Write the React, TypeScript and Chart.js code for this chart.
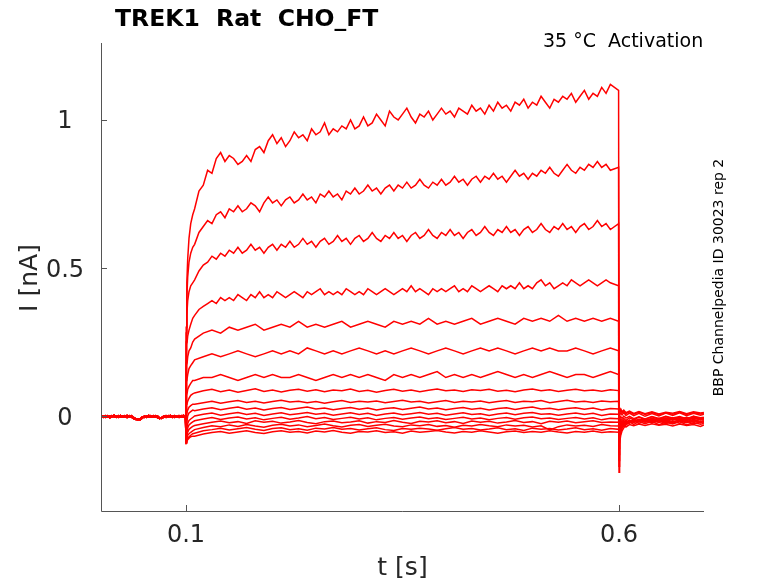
import React, { useRef, useEffect } from "react";
import { Chart, registerables } from "chart.js";

Chart.register(...registerables);

const titleText = "TREK1  Rat  CHO_FT";
const conditionText = "35 °C  Activation";
const sideText = "BBP Channelpedia ID 30023 rep 2";
const xLabel = "t [s]";
const yLabel = "I [nA]";
const xTicks = [0.1, 0.6];
const yTicks = [0, 0.5, 1];

// sample times (s) for each part of the sweep
const baseTimes = Array.from({ length: 40 }, (_, k) => 0.002 + 0.0025 * k);
const onsetTimes = [0.1, 0.1003, 0.101, 0.102, 0.1035, 0.1055, 0.1078];
const fineTimes = Array.from({ length: 98 }, (_, k) => (k === 97 ? 0.5995 : 0.11 + 0.005 * k));
const coarseTimes = Array.from({ length: 50 }, (_, k) => (k === 49 ? 0.5995 : 0.11 + 0.01 * k));
const tailTimes = [0.6, 0.6003, 0.601, 0.602, 0.6035, 0.6055, 0.608, 0.612, 0.617, 0.623, 0.63, 0.638, 0.646, 0.654, 0.662, 0.67, 0.678, 0.686, 0.694, 0.698];

// holding current before the step (nA)
const baselineA = [
  0.002, -0.003, 0.001, -0.004, 0.0, -0.002, 0.003, -0.003, 0.001, -0.004,
  0.0, -0.002, 0.002, -0.003, 0.001, -0.005, -0.009, -0.012, -0.011, -0.006,
  0.0, -0.003, 0.002, -0.002, 0.001, -0.004, 0.0, -0.006, -0.008, -0.004,
  0.001, -0.003, 0.002, -0.002, 0.0, -0.004, 0.001, -0.003, 0.002, -0.001,
];
const baselineB = [
  -0.004, 0.0, -0.005, -0.001, -0.004, 0.001, -0.003, 0.0, -0.005, -0.001,
  -0.003, 0.001, -0.004, 0.0, -0.003, -0.008, -0.011, -0.013, -0.01, -0.003,
  -0.005, 0.0, -0.004, 0.001, -0.003, 0.0, -0.005, -0.008, -0.006, 0.0,
  -0.004, 0.001, -0.003, 0.0, -0.005, -0.001, -0.003, 0.001, -0.004, -0.002,
];
const baselineC = [
  -0.001, -0.005, -0.002, 0.001, -0.006, -0.003, 0.0, -0.005, -0.002, 0.002,
  -0.004, -0.001, -0.005, 0.001, -0.004, -0.009, -0.012, -0.01, -0.013, -0.007,
  -0.002, -0.005, 0.0, -0.004, -0.002, 0.001, -0.005, -0.009, -0.005, -0.002,
  -0.005, 0.0, -0.003, -0.005, 0.001, -0.002, -0.005, 0.0, -0.003, -0.004,
];
const baselines = [baselineA, baselineB, baselineC];

// first ms of each step
const onsets = [
  [-0.05, 0.3, 0.45, 0.53, 0.6, 0.65, 0.68],
  [-0.05, 0.28, 0.4, 0.47, 0.52, 0.55, 0.57],
  [-0.05, 0.25, 0.34, 0.39, 0.42, 0.44, 0.45],
  [-0.06, 0.18, 0.24, 0.27, 0.29, 0.31, 0.33],
  [-0.06, 0.12, 0.17, 0.2, 0.22, 0.23, 0.25],
  [-0.07, 0.08, 0.12, 0.14, 0.16, 0.17, 0.18],
  [-0.07, 0.04, 0.07, 0.09, 0.1, 0.11, 0.12],
  [-0.08, 0.01, 0.04, 0.05, 0.06, 0.07, 0.075],
  [-0.08, -0.02, 0.01, 0.02, 0.03, 0.035, 0.04],
  [-0.08, -0.04, -0.02, 0.0, 0.01, 0.015, 0.02],
  [-0.085, -0.06, -0.04, -0.025, -0.015, -0.01, -0.005],
  [-0.09, -0.07, -0.055, -0.04, -0.03, -0.025, -0.02],
  [-0.09, -0.08, -0.065, -0.055, -0.045, -0.04, -0.035],
  [-0.09, -0.085, -0.075, -0.065, -0.06, -0.055, -0.05],
  [-0.095, -0.09, -0.08, -0.075, -0.07, -0.065, -0.06],
  [-0.095, -0.09, -0.085, -0.08, -0.075, -0.07, -0.068],
];

// step currents, largest sweeps sampled every 5 ms
const step1 = [
  0.7, 0.76, 0.78, 0.83, 0.82, 0.87, 0.89, 0.86, 0.88, 0.87,
  0.85, 0.86, 0.88, 0.86, 0.9, 0.91, 0.89, 0.93, 0.95, 0.92,
  0.94, 0.91, 0.93, 0.96, 0.94, 0.95, 0.93, 0.97, 0.95, 0.96,
  0.99, 0.95, 0.97, 0.96, 0.98, 0.97, 1.0, 0.97, 0.98, 1.01,
  0.98, 0.99, 1.02, 1.0, 0.98, 1.03, 1.01, 1.0, 1.02, 1.04,
  1.01, 0.99, 1.02, 1.01, 1.03, 1.0, 1.02, 1.04, 1.02, 1.03,
  1.01, 1.04, 1.03, 1.02, 1.05, 1.03, 1.04, 1.02, 1.05, 1.03,
  1.06, 1.04, 1.05, 1.03, 1.06, 1.05, 1.07, 1.04, 1.06, 1.05,
  1.08, 1.06, 1.04, 1.07, 1.06, 1.08, 1.07, 1.09, 1.06, 1.08,
  1.1, 1.07, 1.09, 1.08, 1.11, 1.09, 1.12, 1.1,
];
const step2 = [
  0.58, 0.62, 0.64, 0.66, 0.65, 0.68, 0.69, 0.67, 0.7, 0.69,
  0.71, 0.69, 0.7, 0.72, 0.71, 0.69, 0.72, 0.74, 0.72, 0.73,
  0.71, 0.73, 0.74, 0.72, 0.73, 0.75, 0.73, 0.74, 0.72, 0.75,
  0.74, 0.76, 0.74, 0.75, 0.73, 0.76, 0.75, 0.77, 0.75, 0.76,
  0.78, 0.76, 0.77, 0.75, 0.77, 0.78, 0.76, 0.78, 0.77, 0.79,
  0.77, 0.78, 0.8, 0.78, 0.77, 0.79, 0.78, 0.8, 0.78, 0.79,
  0.81, 0.79, 0.8, 0.78, 0.8, 0.81, 0.79, 0.81, 0.8, 0.82,
  0.8, 0.81, 0.79, 0.81, 0.83, 0.81, 0.82, 0.8, 0.82, 0.81,
  0.83, 0.82, 0.84, 0.82, 0.81, 0.83, 0.85, 0.83, 0.82, 0.84,
  0.83, 0.85, 0.84, 0.86, 0.84, 0.85, 0.83, 0.84,
];
const step3 = [
  0.46, 0.49, 0.51, 0.52, 0.54, 0.53, 0.55, 0.54, 0.56, 0.55,
  0.57, 0.55, 0.56, 0.58, 0.56, 0.57, 0.55, 0.57, 0.58, 0.56,
  0.58, 0.57, 0.59, 0.57, 0.58, 0.6, 0.58, 0.59, 0.57, 0.59,
  0.6, 0.58, 0.59, 0.61, 0.59, 0.6, 0.58, 0.6, 0.61, 0.59,
  0.6, 0.62, 0.6, 0.59, 0.61, 0.6, 0.62, 0.6, 0.61, 0.59,
  0.61, 0.62, 0.6, 0.61, 0.63, 0.61, 0.6, 0.62, 0.61, 0.63,
  0.61, 0.62, 0.6, 0.62, 0.63, 0.61, 0.62, 0.64, 0.62, 0.61,
  0.63, 0.62, 0.64, 0.62, 0.63, 0.61, 0.63, 0.64, 0.62, 0.63,
  0.65, 0.63, 0.62, 0.64, 0.63, 0.65, 0.63, 0.64, 0.62, 0.64,
  0.65, 0.63, 0.64, 0.66, 0.64, 0.65, 0.63, 0.65,
];
const step4 = [
  0.34, 0.36, 0.37, 0.38, 0.39, 0.38, 0.4, 0.39, 0.4, 0.39,
  0.41, 0.4, 0.39, 0.41, 0.4, 0.42, 0.4, 0.41, 0.4, 0.42,
  0.41, 0.4, 0.41, 0.42, 0.41, 0.4, 0.42, 0.41, 0.42, 0.43,
  0.41, 0.42, 0.41, 0.42, 0.41, 0.43, 0.42, 0.41, 0.42, 0.41,
  0.43, 0.42, 0.41, 0.42, 0.43, 0.42, 0.41, 0.42, 0.43, 0.42,
  0.44, 0.42, 0.43, 0.42, 0.41, 0.43, 0.42, 0.43, 0.42, 0.43,
  0.44, 0.42, 0.43, 0.42, 0.44, 0.43, 0.42, 0.43, 0.44, 0.43,
  0.42, 0.44, 0.43, 0.44, 0.43, 0.45, 0.43, 0.44, 0.43, 0.45,
  0.46, 0.44, 0.45, 0.43, 0.44, 0.45, 0.44, 0.46, 0.45, 0.44,
  0.45, 0.46, 0.45, 0.44, 0.45, 0.46, 0.45, 0.44,
];
// smaller sweeps, every 10 ms
const step5 = [
  0.26, 0.28, 0.29, 0.28, 0.3, 0.29, 0.3, 0.31, 0.29, 0.3,
  0.31, 0.3, 0.32, 0.3, 0.31, 0.3, 0.31, 0.32, 0.3, 0.31,
  0.32, 0.31, 0.3, 0.32, 0.31, 0.32, 0.31, 0.33, 0.31, 0.32,
  0.31, 0.32, 0.33, 0.31, 0.32, 0.33, 0.32, 0.31, 0.33, 0.32,
  0.33, 0.32, 0.34, 0.32, 0.33, 0.32, 0.33, 0.32, 0.33, 0.32,
];
const step6 = [
  0.19, 0.2, 0.21, 0.2, 0.21, 0.22, 0.21, 0.2, 0.21, 0.22,
  0.21, 0.22, 0.21, 0.23, 0.22, 0.21, 0.22, 0.21, 0.22, 0.23,
  0.22, 0.21, 0.22, 0.21, 0.22, 0.23, 0.22, 0.21, 0.22, 0.23,
  0.22, 0.21, 0.22, 0.23, 0.22, 0.23, 0.22, 0.21, 0.22, 0.23,
  0.22, 0.23, 0.22, 0.22, 0.23, 0.22, 0.21, 0.22, 0.23, 0.22,
];
const step7 = [
  0.12, 0.13, 0.13, 0.14, 0.13, 0.12, 0.13, 0.14, 0.13, 0.14,
  0.13, 0.13, 0.14, 0.13, 0.12, 0.13, 0.14, 0.13, 0.14, 0.13,
  0.14, 0.13, 0.12, 0.14, 0.13, 0.14, 0.13, 0.14, 0.15, 0.13,
  0.14, 0.13, 0.14, 0.13, 0.14, 0.15, 0.14, 0.13, 0.14, 0.13,
  0.14, 0.15, 0.14, 0.13, 0.14, 0.14, 0.13, 0.14, 0.15, 0.14,
];
const step8 = [
  0.078, 0.085, 0.09, 0.082, 0.088, 0.08, 0.086, 0.092, 0.083, 0.088,
  0.081, 0.087, 0.09, 0.084, 0.089, 0.082, 0.088, 0.085, 0.091, 0.083,
  0.087, 0.08, 0.086, 0.09, 0.084, 0.088, 0.082, 0.087, 0.091, 0.085,
  0.088, 0.083, 0.089, 0.086, 0.09, 0.084, 0.087, 0.082, 0.088, 0.091,
  0.085, 0.089, 0.083, 0.087, 0.09, 0.085, 0.088, 0.084, 0.089, 0.086,
];
const step9 = [
  0.04, 0.045, 0.05, 0.043, 0.048, 0.052, 0.046, 0.05, 0.044, 0.049,
  0.053, 0.047, 0.05, 0.045, 0.049, 0.043, 0.048, 0.052, 0.046, 0.05,
  0.047, 0.051, 0.045, 0.049, 0.053, 0.047, 0.05, 0.044, 0.048, 0.052,
  0.046, 0.05, 0.047, 0.051, 0.045, 0.049, 0.052, 0.046, 0.05, 0.048,
  0.052, 0.045, 0.049, 0.053, 0.047, 0.05, 0.046, 0.051, 0.048, 0.05,
];
const step10 = [
  0.018, 0.024, 0.028, 0.021, 0.026, 0.03, 0.023, 0.027, 0.02, 0.025,
  0.029, 0.022, 0.026, 0.03, 0.024, 0.027, 0.021, 0.025, 0.029, 0.023,
  0.027, 0.02, 0.025, 0.028, 0.022, 0.026, 0.03, 0.024, 0.027, 0.021,
  0.025, 0.029, 0.023, 0.026, 0.02, 0.025, 0.028, 0.022, 0.027, 0.03,
  0.024, 0.026, 0.021, 0.025, 0.028, 0.023, 0.027, 0.02, 0.025, 0.024,
];
const step11 = [
  0.0, 0.006, 0.01, 0.003, 0.008, 0.012, 0.005, 0.009, 0.002, 0.007,
  0.011, 0.004, 0.008, 0.012, 0.006, 0.009, 0.003, 0.007, 0.011, 0.005,
  0.009, 0.002, 0.007, 0.01, 0.004, 0.008, 0.012, 0.006, 0.009, 0.003,
  0.007, 0.011, 0.005, 0.008, 0.002, 0.007, 0.01, 0.004, 0.009, 0.012,
  0.006, 0.008, 0.003, 0.007, 0.01, 0.005, 0.009, 0.002, 0.007, 0.006,
];
const step12 = [
  -0.016, -0.01, -0.005, -0.012, -0.007, -0.003, -0.01, -0.006, -0.013, -0.008,
  -0.004, -0.011, -0.007, -0.002, -0.009, -0.005, -0.012, -0.008, -0.004, -0.01,
  -0.006, -0.013, -0.008, -0.005, -0.011, -0.007, -0.003, -0.009, -0.006, -0.012,
  -0.008, -0.004, -0.01, -0.007, -0.013, -0.008, -0.005, -0.011, -0.006, -0.003,
  -0.009, -0.007, -0.012, -0.008, -0.005, -0.01, -0.006, -0.013, -0.008, -0.009,
];
const step13 = [
  -0.032, -0.026, -0.021, -0.017, -0.023, -0.019, -0.025, -0.016, -0.021, -0.018,
  -0.024, -0.02, -0.015, -0.022, -0.026, -0.019, -0.017, -0.023, -0.02, -0.016,
  -0.024, -0.019, -0.022, -0.015, -0.021, -0.025, -0.018, -0.02, -0.016, -0.023,
  -0.019, -0.025, -0.017, -0.021, -0.018, -0.024, -0.02, -0.015, -0.022, -0.019,
  -0.026, -0.018, -0.021, -0.017, -0.023, -0.019, -0.016, -0.022, -0.02, -0.021,
];
const step14 = [
  -0.046, -0.039, -0.033, -0.036, -0.03, -0.035, -0.029, -0.034, -0.038, -0.031,
  -0.028, -0.034, -0.03, -0.036, -0.032, -0.027, -0.033, -0.037, -0.031, -0.029,
  -0.035, -0.031, -0.028, -0.034, -0.036, -0.03, -0.033, -0.029, -0.035, -0.032,
  -0.038, -0.031, -0.034, -0.029, -0.033, -0.036, -0.03, -0.034, -0.031, -0.037,
  -0.033, -0.047, -0.036, -0.03, -0.034, -0.031, -0.035, -0.029, -0.033, -0.034,
];
const step15 = [
  -0.058, -0.05, -0.046, -0.041, -0.047, -0.043, -0.039, -0.045, -0.049, -0.042,
  -0.04, -0.046, -0.043, -0.048, -0.041, -0.044, -0.039, -0.045, -0.042, -0.047,
  -0.043, -0.04, -0.046, -0.049, -0.042, -0.045, -0.041, -0.044, -0.048, -0.043,
  -0.039, -0.045, -0.042, -0.047, -0.044, -0.04, -0.046, -0.043, -0.049, -0.041,
  -0.045, -0.042, -0.047, -0.044, -0.04, -0.046, -0.043, -0.048, -0.042, -0.045,
];
const step16 = [
  -0.068, -0.061, -0.056, -0.052, -0.058, -0.054, -0.05, -0.056, -0.059, -0.053,
  -0.05, -0.055, -0.052, -0.057, -0.051, -0.054, -0.049, -0.055, -0.058, -0.052,
  -0.054, -0.05, -0.056, -0.053, -0.058, -0.051, -0.055, -0.052, -0.049, -0.054,
  -0.057, -0.052, -0.055, -0.05, -0.054, -0.058, -0.053, -0.051, -0.056, -0.052,
  -0.055, -0.05, -0.054, -0.057, -0.052, -0.055, -0.051, -0.056, -0.053, -0.055,
];
const steps = [step1, step2, step3, step4, step5, step6, step7, step8, step9, step10, step11, step12, step13, step14, step15, step16];

// back at holding after the step
const tails = [
  [-0.19, -0.13, -0.09, -0.065, -0.05, -0.04, -0.03, -0.022, -0.018, -0.012, -0.016, -0.009, -0.014, -0.008, -0.012, -0.006, -0.011, -0.005, -0.01, -0.007],
  [-0.17, -0.11, -0.075, -0.055, -0.042, -0.033, -0.025, -0.02, -0.013, -0.017, -0.01, -0.015, -0.008, -0.013, -0.006, -0.012, -0.004, -0.01, -0.006, -0.009],
  [-0.15, -0.095, -0.065, -0.048, -0.036, -0.028, -0.022, -0.015, -0.019, -0.011, -0.016, -0.008, -0.014, -0.007, -0.012, -0.005, -0.011, -0.004, -0.009, -0.006],
  [-0.13, -0.08, -0.055, -0.04, -0.03, -0.024, -0.017, -0.021, -0.013, -0.018, -0.009, -0.015, -0.01, -0.016, -0.008, -0.013, -0.006, -0.012, -0.007, -0.01],
  [-0.11, -0.065, -0.045, -0.033, -0.025, -0.02, -0.024, -0.015, -0.02, -0.012, -0.017, -0.01, -0.015, -0.008, -0.014, -0.009, -0.016, -0.007, -0.013, -0.01],
  [-0.09, -0.05, -0.035, -0.027, -0.02, -0.025, -0.016, -0.022, -0.013, -0.019, -0.011, -0.018, -0.012, -0.02, -0.01, -0.017, -0.011, -0.019, -0.012, -0.015],
  [-0.07, -0.04, -0.028, -0.022, -0.027, -0.018, -0.024, -0.016, -0.022, -0.014, -0.021, -0.013, -0.02, -0.015, -0.022, -0.012, -0.02, -0.014, -0.023, -0.017],
  [-0.05, -0.03, -0.022, -0.028, -0.02, -0.026, -0.018, -0.024, -0.016, -0.025, -0.017, -0.023, -0.015, -0.026, -0.018, -0.024, -0.016, -0.027, -0.019, -0.022],
  [-0.035, -0.02, -0.026, -0.018, -0.025, -0.017, -0.027, -0.02, -0.028, -0.019, -0.026, -0.018, -0.029, -0.021, -0.027, -0.019, -0.03, -0.022, -0.028, -0.025],
  [-0.02, -0.012, -0.018, -0.01, -0.016, -0.008, -0.015, -0.006, -0.013, -0.004, -0.012, -0.003, -0.011, -0.002, -0.01, -0.004, -0.012, -0.001, -0.009, -0.006],
  [0.0, 0.01, 0.002, 0.011, 0.004, 0.012, 0.002, 0.01, 0.001, 0.009, -0.001, 0.008, 0.0, 0.01, 0.002, 0.011, 0.001, 0.009, 0.003, 0.006],
  [0.01, 0.018, 0.012, 0.02, 0.011, 0.016, 0.008, 0.014, 0.006, 0.013, 0.005, 0.012, 0.004, 0.011, 0.006, 0.013, 0.005, 0.012, 0.007, 0.009],
  [0.015, 0.022, 0.016, 0.024, 0.014, 0.02, 0.011, 0.017, 0.009, 0.015, 0.008, 0.014, 0.007, 0.013, 0.009, 0.015, 0.008, 0.014, 0.01, 0.012],
  [-0.01, -0.003, -0.009, -0.002, -0.008, 0.0, -0.007, -0.001, -0.009, -0.003, -0.01, -0.002, -0.008, -0.001, -0.007, -0.002, -0.009, -0.001, -0.006, -0.004],
  [-0.025, -0.018, -0.024, -0.016, -0.023, -0.015, -0.022, -0.014, -0.021, -0.013, -0.02, -0.015, -0.022, -0.016, -0.024, -0.017, -0.023, -0.015, -0.021, -0.019],
  [-0.04, -0.03, -0.036, -0.028, -0.034, -0.03, -0.037, -0.029, -0.033, -0.027, -0.032, -0.026, -0.031, -0.028, -0.034, -0.027, -0.032, -0.029, -0.035, -0.03],
];

const FONT = "'DejaVu Sans', 'Liberation Sans', sans-serif";

const pairs = (times: number[], vals: number[]) => times.map((t, k) => ({ x: t, y: vals[k] }));

const sweeps = steps.map((step, i) => [
  ...pairs(baseTimes, baselines[i % 3]),
  ...pairs(onsetTimes, onsets[i]),
  ...pairs(step.length === fineTimes.length ? fineTimes : coarseTimes, step),
  ...pairs(tailTimes, tails[i]),
]);

const decorations = {
  id: "decorations",
  afterDraw(chart: any) {
    const { ctx, chartArea: area, scales } = chart;
    const xs = scales.x;
    const ys = scales.y;
    ctx.save();
    // axes with inward ticks
    ctx.strokeStyle = "#555555";
    ctx.lineWidth = 1;
    ctx.beginPath();
    ctx.moveTo(area.left + 0.5, area.top);
    ctx.lineTo(area.left + 0.5, area.bottom + 0.5);
    ctx.lineTo(area.right, area.bottom + 0.5);
    xTicks.forEach((v) => {
      const px = Math.round(xs.getPixelForValue(v)) + 0.5;
      ctx.moveTo(px, area.bottom);
      ctx.lineTo(px, area.bottom - 6);
    });
    yTicks.forEach((v) => {
      const py = Math.round(ys.getPixelForValue(v)) + 0.5;
      ctx.moveTo(area.left, py);
      ctx.lineTo(area.left + 6, py);
    });
    ctx.stroke();

    ctx.fillStyle = "#262626";
    ctx.font = `24px ${FONT}`;
    ctx.textAlign = "center";
    ctx.textBaseline = "alphabetic";
    xTicks.forEach((v) => {
      ctx.fillText(String(v), xs.getPixelForValue(v), area.bottom + 31);
    });
    yTicks.forEach((v) => {
      ctx.fillText(String(v), area.left - 36, ys.getPixelForValue(v) + 8.5);
    });

    ctx.font = `25px ${FONT}`;
    ctx.fillText(xLabel, (area.left + area.right) / 2, area.bottom + 64);
    ctx.save();
    ctx.translate(37, (area.top + area.bottom) / 2 + 1);
    ctx.rotate(-Math.PI / 2);
    ctx.fillText(yLabel, 0, 0);
    ctx.restore();

    ctx.fillStyle = "#000000";
    ctx.font = `bold 23.5px ${FONT}`;
    ctx.textAlign = "left";
    ctx.fillText(titleText, 115, 26);

    ctx.font = `19px ${FONT}`;
    ctx.fillText(conditionText, 543, 47);

    ctx.font = `14px ${FONT}`;
    ctx.save();
    ctx.translate(723, 277.5);
    ctx.rotate(-Math.PI / 2);
    ctx.textAlign = "center";
    ctx.fillText(sideText, 0, 0);
    ctx.restore();
    ctx.restore();
  },
};

const SweepChart = () => {
  const chartRef = useRef<HTMLCanvasElement>(null);
  const chartInstanceRef = useRef<Chart | null>(null);

  useEffect(() => {
    if (chartRef.current && !chartInstanceRef.current) {
      const context = chartRef.current.getContext("2d");
      if (context) {
        chartInstanceRef.current = new Chart(context, {
          type: "line",
          data: {
            datasets: sweeps.map((pts, i) => ({
              label: `sweep ${i + 1}`,
              data: pts,
              borderColor: "#ff0000",
              borderWidth: 1.5,
              pointRadius: 0,
              tension: 0,
              fill: false,
            })),
          },
          options: {
            responsive: false,
            animation: false,
            layout: { padding: { top: 43, right: 74, left: 0, bottom: 0 } },
            scales: {
              x: {
                type: "linear",
                min: 0.0019,
                max: 0.6981,
                grid: { display: false, drawTicks: false },
                border: { display: false },
                ticks: { display: false },
                afterFit: (s: any) => {
                  s.height = 72;
                },
              },
              y: {
                type: "linear",
                min: -0.3209,
                max: 1.2601,
                grid: { display: false, drawTicks: false },
                border: { display: false },
                ticks: { display: false },
                afterFit: (s: any) => {
                  s.width = 101;
                },
              },
            },
            plugins: {
              legend: { display: false },
              tooltip: { enabled: false },
              title: { display: false },
            },
          },
          plugins: [decorations],
        });
      }
    }
    return () => {
      if (chartInstanceRef.current) {
        chartInstanceRef.current.destroy();
        chartInstanceRef.current = null;
      }
    };
  }, []);

  return (
    <div style={{ position: "fixed", left: 0, top: 0, width: 778, height: 583, background: "#ffffff" }}>
      <canvas ref={chartRef} width={778} height={583} />
    </div>
  );
};

export default function App() {
  return <SweepChart />;
}
